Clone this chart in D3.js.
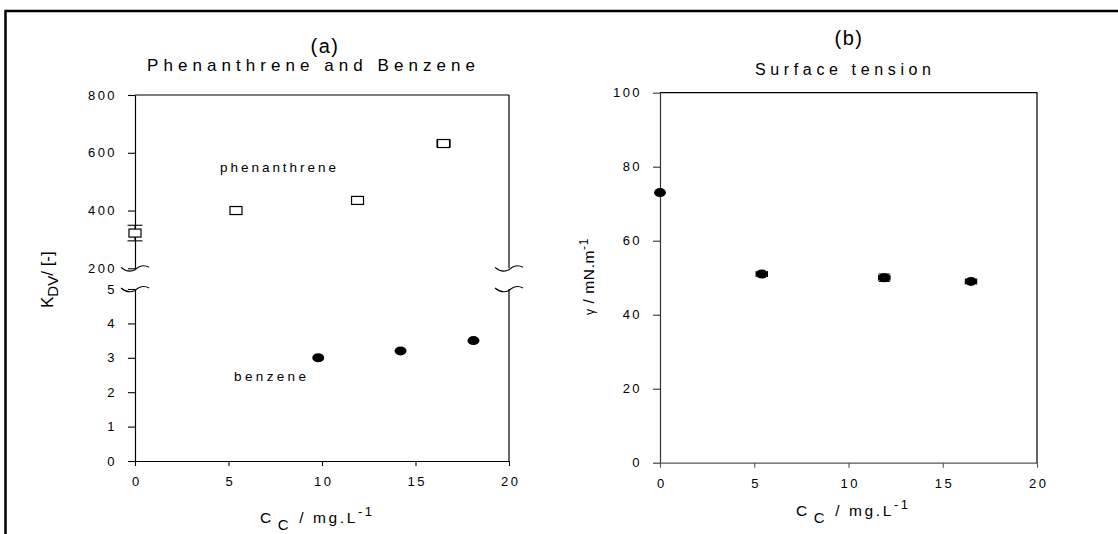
<!DOCTYPE html>
<html>
<head>
<meta charset="utf-8">
<script src="https://cdn.jsdelivr.net/npm/d3@7"></script>
<style>
  body { margin: 0; background: #fff; }
  text { font-family: "Liberation Sans", Arial, sans-serif; fill: #000; }
</style>
</head>
<body>
<script>
// ---- data ----
var xTicks = [0, 5, 10, 15, 20];
var kUpperTicks = [200, 400, 600, 800];
var kLowerTicks = [0, 1, 2, 3, 4, 5];
var gammaTicks = [0, 20, 40, 60, 80, 100];

var phenX = [0, 5.4, 11.9, 16.5];
var phenK = [322, 400, 435, 632];
var phenErrK = [27, 0, 0, 0];
var phenErrX = [0, 0, 0, 0.35];

var benzX = [9.8, 14.2, 18.1];
var benzK = [3.0, 3.2, 3.5];

var tensX = [0, 5.4, 11.9, 16.5];
var tensG = [73, 51, 50, 49];
var tensErrX = [0, 0.3, 0.3, 0.3];
var tensErrG = [0, 0, 1, 0];

var W = 1118, H = 534;
var font = '"Liberation Sans", Arial, sans-serif';
var fmt = d3.format("d");

var svg = d3.select("body").append("svg")
            .attr("width", W)
            .attr("height", H);

// outer frame (top + left only)
svg.append("path")
   .attr("d", "M5.5," + H + " L5.5,11 L" + W + ",11")
   .attr("fill", "none")
   .attr("stroke", "#000")
   .attr("stroke-width", 2.5);

function styleAxis(g, col) {
  g.attr("font-family", font).attr("font-size", 13);
  g.select(".domain").attr("stroke", col).attr("stroke-width", 1.2);
  g.selectAll(".tick line").attr("stroke", col).attr("stroke-width", 1.1);
  g.selectAll(".tick text").attr("fill", "#000").attr("letter-spacing", 2.4);
}

function brk(x0, y0) {
  return "M" + (x0 - 14) + "," + (y0 - 1) +
         " Q" + (x0 - 7) + "," + (y0 + 5) + " " + x0 + "," + (y0 + 1.5) +
         " Q" + (x0 + 7) + "," + (y0 - 5) + " " + (x0 + 14) + "," + (y0 - 1);
}

// ================= panel (a) =================
var xa = d3.scaleLinear().domain([0, 20]).range([135, 509]);
var yUp = d3.scaleLinear().domain([200, 800]).range([268.3, 95]);
var yLo = d3.scaleLinear().domain([0, 5]).range([461, 289]);

var pa = svg.append("g");

pa.append("g")
  .attr("transform", "translate(" + xa(0) + ",0)")
  .call(d3.axisLeft(yUp).tickValues(kUpperTicks).tickFormat(fmt).tickSize(7).tickSizeOuter(0).tickPadding(11))
  .call(styleAxis, "#000");

pa.append("g")
  .attr("transform", "translate(" + xa(0) + ",0)")
  .call(d3.axisLeft(yLo).tickValues(kLowerTicks).tickFormat(fmt).tickSize(7).tickSizeOuter(0).tickPadding(11))
  .call(styleAxis, "#000");

pa.append("g")
  .attr("transform", "translate(0," + yLo(0) + ")")
  .call(d3.axisBottom(xa).tickValues(xTicks).tickFormat(fmt).tickSize(5).tickSizeOuter(0).tickPadding(11))
  .call(styleAxis, "#000")
  .selectAll(".tick text").attr("dx", 1.2);

// top + right frame of (a)
pa.append("line")
  .attr("x1", xa(0)).attr("x2", xa(20))
  .attr("y1", yUp(800)).attr("y2", yUp(800))
  .attr("stroke", "#000").attr("stroke-width", 1.2);
pa.append("line")
  .attr("x1", xa(20)).attr("x2", xa(20))
  .attr("y1", yUp(800)).attr("y2", yUp(200))
  .attr("stroke", "#000").attr("stroke-width", 1.2);
pa.append("line")
  .attr("x1", xa(20)).attr("x2", xa(20))
  .attr("y1", yLo(5)).attr("y2", yLo(0))
  .attr("stroke", "#000").attr("stroke-width", 1.2);

// axis breaks
[xa(0), xa(20)].forEach(function(bx) {
  [yUp(200), yLo(5)].forEach(function(by) {
    pa.append("path")
      .attr("d", brk(bx, by))
      .attr("fill", "none")
      .attr("stroke", "#000")
      .attr("stroke-width", 1.1);
  });
});

// phenanthrene error bars
phenX.forEach(function(v, i) {
  var cx = xa(v), cy = yUp(phenK[i]);
  if (phenErrK[i] > 0) {
    var y1 = yUp(phenK[i] + phenErrK[i]), y2 = yUp(phenK[i] - phenErrK[i]);
    pa.append("line").attr("x1", cx).attr("x2", cx).attr("y1", y1).attr("y2", y2)
      .attr("stroke", "#000").attr("stroke-width", 1.1);
    [y1, y2].forEach(function(yy) {
      pa.append("line").attr("x1", cx - 7.5).attr("x2", cx + 7.5).attr("y1", yy).attr("y2", yy)
        .attr("stroke", "#000").attr("stroke-width", 1.1);
    });
  }
  if (phenErrX[i] > 0) {
    var x1 = xa(v - phenErrX[i]), x2 = xa(v + phenErrX[i]);
    pa.append("line").attr("x1", x1).attr("x2", x2).attr("y1", cy).attr("y2", cy)
      .attr("stroke", "#000").attr("stroke-width", 1.1);
    [x1, x2].forEach(function(xx) {
      pa.append("line").attr("x1", xx).attr("x2", xx).attr("y1", cy - 4).attr("y2", cy + 4)
        .attr("stroke", "#000").attr("stroke-width", 1.1);
    });
  }
});

pa.selectAll(".phen")
  .data(phenX)
  .enter().append("rect")
  .attr("class", "phen")
  .attr("x", function(d) { return xa(d) - 6; })
  .attr("y", function(d, i) { return yUp(phenK[i]) - 4; })
  .attr("width", 12)
  .attr("height", 8)
  .attr("fill", "#fff")
  .attr("stroke", "#000")
  .attr("stroke-width", 1.2);

pa.selectAll(".benz")
  .data(benzX)
  .enter().append("ellipse")
  .attr("class", "benz")
  .attr("cx", function(d) { return xa(d); })
  .attr("cy", function(d, i) { return yLo(benzK[i]); })
  .attr("rx", 6)
  .attr("ry", 4.5)
  .attr("fill", "#000");

pa.append("text").attr("x", 220).attr("y", 172)
  .attr("font-size", 13.5).attr("textLength", 116).attr("lengthAdjust", "spacing")
  .text("phenanthrene");
pa.append("text").attr("x", 234).attr("y", 381)
  .attr("font-size", 13.5).attr("textLength", 72).attr("lengthAdjust", "spacing")
  .text("benzene");

// titles (a)
pa.append("text").attr("x", 325).attr("y", 53).attr("text-anchor", "middle")
  .attr("font-size", 20).attr("letter-spacing", 1.5).text("(a)");
pa.append("text").attr("x", 147).attr("y", 71)
  .attr("font-size", 17).attr("textLength", 328).attr("lengthAdjust", "spacing")
  .text("Phenanthrene and Benzene");

// y label (a)
var yla = pa.append("text")
  .attr("transform", "translate(53,308) rotate(-90)")
  .attr("font-size", 17);
yla.append("tspan").text("K");
yla.append("tspan").attr("dy", 5).attr("font-size", 15).text("DV");
yla.append("tspan").attr("dy", -5).text("/ [-]");

function xLabel(g, x0, y0) {
  var t = g.append("text")
    .attr("x", x0).attr("y", y0)
    .attr("font-size", 15.5)
    .attr("letter-spacing", 2.6);
  t.append("tspan").text("C");
  t.append("tspan").attr("dx", 4).attr("dy", 7).attr("font-size", 15).text("C");
  t.append("tspan").attr("dx", 8).attr("dy", -7).text("/ mg.L");
  t.append("tspan").attr("dy", -7).attr("font-size", 13).text("-1");
}
xLabel(pa, 260, 523);

// ================= panel (b) =================
var xb = d3.scaleLinear().domain([0, 20]).range([660, 1037]);
var yb = d3.scaleLinear().domain([0, 100]).range([462.7, 92.7]);

var pb = svg.append("g");

pb.append("g")
  .attr("transform", "translate(" + xb(0) + ",0)")
  .call(d3.axisLeft(yb).tickValues(gammaTicks).tickFormat(fmt).tickSize(7).tickSizeOuter(0).tickPadding(11))
  .call(styleAxis, "#333");

pb.append("g")
  .attr("transform", "translate(0," + yb(0) + ")")
  .call(d3.axisBottom(xb).tickValues(xTicks).tickFormat(fmt).tickSize(5).tickSizeOuter(0).tickPadding(11))
  .call(styleAxis, "#555")
  .selectAll(".tick text").attr("dx", 1.2);

pb.append("path")
  .attr("d", "M" + xb(0) + "," + yb(100) + " L" + xb(20) + "," + yb(100) + " L" + xb(20) + "," + yb(0))
  .attr("fill", "none").attr("stroke", "#000").attr("stroke-width", 1.2);

tensX.forEach(function(v, i) {
  var cx = xb(v), cy = yb(tensG[i]);
  if (tensErrX[i] > 0) {
    var x1 = xb(v - tensErrX[i]), x2 = xb(v + tensErrX[i]);
    pb.append("line").attr("x1", x1).attr("x2", x2).attr("y1", cy).attr("y2", cy)
      .attr("stroke", "#000").attr("stroke-width", 1.1);
    [x1, x2].forEach(function(xx) {
      pb.append("line").attr("x1", xx).attr("x2", xx).attr("y1", cy - 3).attr("y2", cy + 3)
        .attr("stroke", "#000").attr("stroke-width", 1.1);
    });
  }
  if (tensErrG[i] > 0) {
    var y1 = yb(tensG[i] + tensErrG[i]), y2 = yb(tensG[i] - tensErrG[i]);
    pb.append("line").attr("x1", cx).attr("x2", cx).attr("y1", y1).attr("y2", y2)
      .attr("stroke", "#000").attr("stroke-width", 1.1);
    [y1, y2].forEach(function(yy) {
      pb.append("line").attr("x1", cx - 5.5).attr("x2", cx + 5.5).attr("y1", yy).attr("y2", yy)
        .attr("stroke", "#000").attr("stroke-width", 1.1);
    });
  }
});

pb.selectAll(".tens")
  .data(tensX)
  .enter().append("ellipse")
  .attr("class", "tens")
  .attr("cx", function(d) { return xb(d); })
  .attr("cy", function(d, i) { return yb(tensG[i]); })
  .attr("rx", 6)
  .attr("ry", 4.5)
  .attr("fill", "#000");

pb.append("text").attr("x", 849).attr("y", 45).attr("text-anchor", "middle")
  .attr("font-size", 20).attr("letter-spacing", 1.5).text("(b)");
pb.append("text").attr("x", 755).attr("y", 75)
  .attr("font-size", 16).attr("textLength", 176).attr("lengthAdjust", "spacing")
  .text("Surface tension");

var ylb = pb.append("text")
  .attr("transform", "translate(594,315) rotate(-90)")
  .attr("font-size", 15.5)
  .attr("letter-spacing", 0.6);
ylb.append("tspan").attr("font-size", 12).text("\u03b3");
ylb.append("tspan").text(" / mN.m");
ylb.append("tspan").attr("dy", -6).attr("font-size", 12).text("-1");

xLabel(pb, 796, 516);
</script>
</body>
</html>
